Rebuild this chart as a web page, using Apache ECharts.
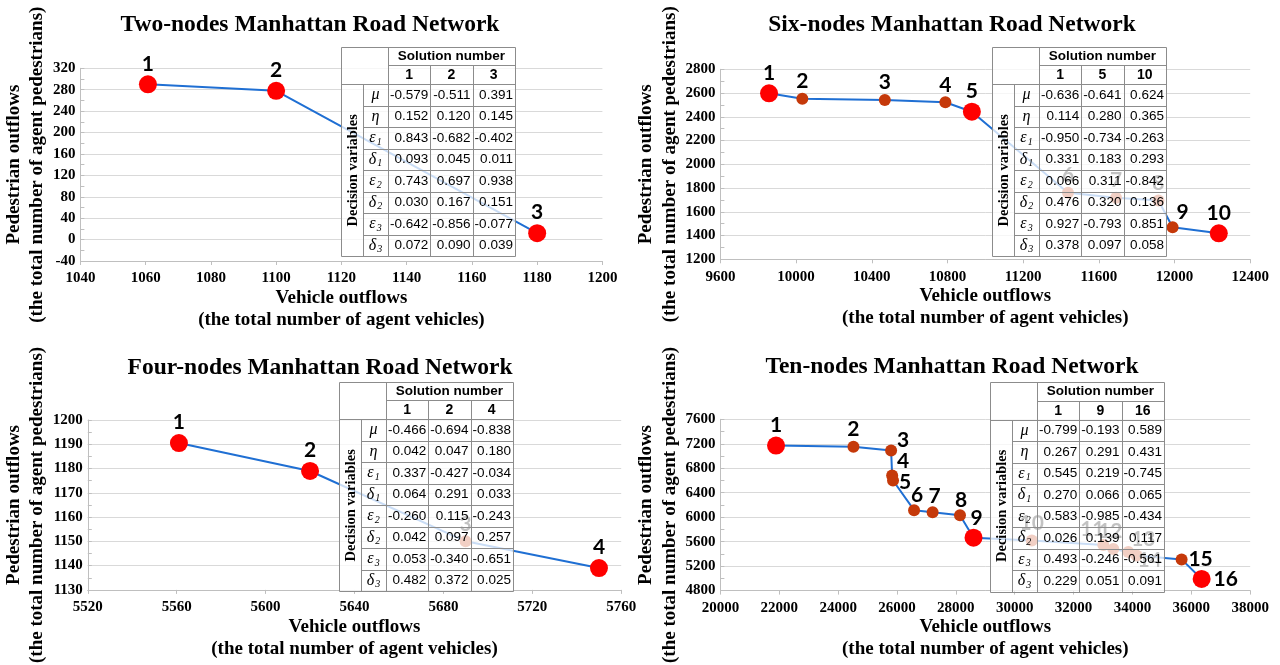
<!DOCTYPE html>
<html><head><meta charset="utf-8">
<script src="https://cdn.jsdelivr.net/npm/echarts@6/dist/echarts.min.js"></script>
<style>html,body{margin:0;padding:0;background:#fff;}#c{width:1280px;height:665px;}</style>
</head><body><div id="c"></div>
<script>
// ---------------- DATA ----------------
const titles = ['Two-nodes Manhattan Road Network', 'Six-nodes Manhattan Road Network',
                'Four-nodes Manhattan Road Network', 'Ten-nodes Manhattan Road Network'];
const xAxisName = 'Vehicle outflows\n(the total number of agent vehicles)';
const yAxisName = 'Pedestrian outflows\n(the total number of agent pedestrians)';

// Two-nodes
const twoX = [1060.7, 1100, 1180];
const twoY = [290, 278, 12];
const twoLabels = ['1', '2', '3'];
const twoBig = ['1', '2', '3'];
const twoXTicks = [1040, 1060, 1080, 1100, 1120, 1140, 1160, 1180, 1200];
const twoYTicks = [-40, 0, 40, 80, 120, 160, 200, 240, 280, 320];

// Six-nodes
const sixX = [9857, 10033, 10469, 10789, 10929, 11437, 11691, 11915, 11990, 12234];
const sixY = [2598, 2552, 2541, 2522, 2443, 1760, 1718, 1695, 1470, 1419];
const sixLabels = ['1', '2', '3', '4', '5', '6', '7', '8', '9', '10'];
const sixBig = ['1', '5', '10'];
const sixXTicks = [9600, 10000, 10400, 10800, 11200, 11600, 12000, 12400];
const sixYTicks = [1200, 1400, 1600, 1800, 2000, 2200, 2400, 2600, 2800];

// Four-nodes
const fourX = [5561, 5620, 5690, 5750];
const fourY = [1190.5, 1179, 1150, 1139];
const fourLabels = ['1', '2', '3', '4'];
const fourBig = ['1', '2', '4'];
const fourXTicks = [5520, 5560, 5600, 5640, 5680, 5720, 5760];
const fourYTicks = [1130, 1140, 1150, 1160, 1170, 1180, 1190, 1200];

// Ten-nodes
const tenX = [21890, 24520, 25800, 25835, 25865, 26580, 27210, 28140, 28600, 30580, 33010, 33350, 33860, 34140, 35670, 36350];
const tenY = [7170, 7150, 7090, 6680, 6600, 6115, 6080, 6030, 5665, 5620, 5545, 5480, 5430, 5375, 5310, 4990];
const tenLabels = ['1', '2', '3', '4', '5', '6', '7', '8', '9', '10', '11', '12', '13', '14', '15', '16'];
const tenBig = ['1', '9', '16'];
const tenXTicks = [20000, 22000, 24000, 26000, 28000, 30000, 32000, 34000, 36000, 38000];
const tenYTicks = [4800, 5200, 5600, 6000, 6400, 6800, 7200, 7600];

// Tables
const rowSymbols = ['μ', 'η', 'ε1', 'δ1', 'ε2', 'δ2', 'ε3', 'δ3'];
const twoSol = ['1', '2', '3'];
const twoTable = [
  ['-0.579', '-0.511', '0.391'], ['0.152', '0.120', '0.145'], ['0.843', '-0.682', '-0.402'], ['0.093', '0.045', '0.011'],
  ['0.743', '0.697', '0.938'], ['0.030', '0.167', '0.151'], ['-0.642', '-0.856', '-0.077'], ['0.072', '0.090', '0.039']];
const sixSol = ['1', '5', '10'];
const sixTable = [
  ['-0.636', '-0.641', '0.624'], ['0.114', '0.280', '0.365'], ['-0.950', '-0.734', '-0.263'], ['0.331', '0.183', '0.293'],
  ['0.066', '0.311', '-0.842'], ['0.476', '0.320', '0.136'], ['0.927', '-0.793', '0.851'], ['0.378', '0.097', '0.058']];
const fourSol = ['1', '2', '4'];
const fourTable = [
  ['-0.466', '-0.694', '-0.838'], ['0.042', '0.047', '0.180'], ['0.337', '-0.427', '-0.034'], ['0.064', '0.291', '0.033'],
  ['-0.260', '0.115', '-0.243'], ['0.042', '0.097', '0.257'], ['0.053', '-0.340', '-0.651'], ['0.482', '0.372', '0.025']];
const tenSol = ['1', '9', '16'];
const tenTable = [
  ['-0.799', '-0.193', '0.589'], ['0.267', '0.291', '0.431'], ['0.545', '0.219', '-0.745'], ['0.270', '0.066', '0.065'],
  ['0.583', '-0.985', '-0.434'], ['0.026', '0.139', '0.117'], ['0.493', '-0.246', '-0.561'], ['0.229', '0.051', '0.091']];

// ---------------- LAYOUT / STYLE ----------------
const SERIF = '"Liberation Serif","Times New Roman",serif';
const SANS = '"Liberation Sans",Arial,sans-serif';
const LABELF = 'Lato,"Open Sans",sans-serif';

const panels = [
  { title: titles[0], xs: twoX, ys: twoY, labels: twoLabels, big: twoBig, xt: twoXTicks, yt: twoYTicks,
    grid: { left: 80.4, top: 68.3, width: 522, height: 192.7 }, tcx: 310, ttop: 12, yGap: 29,
    table: { x: 341, y: 46.5, sol: twoSol, vals: twoTable }, offs: {} },
  { title: titles[1], xs: sixX, ys: sixY, labels: sixLabels, big: sixBig, xt: sixXTicks, yt: sixYTicks,
    grid: { left: 720.4, top: 69.3, width: 529.8, height: 190 }, tcx: 952, ttop: 12, yGap: 36,
    table: { x: 992, y: 46.5, sol: sixSol, vals: sixTable }, offs: { '9': [10, -15] } },
  { title: titles[2], xs: fourX, ys: fourY, labels: fourLabels, big: fourBig, xt: fourXTicks, yt: fourYTicks,
    grid: { left: 87.8, top: 420, width: 533.4, height: 175 }, tcx: 320, ttop: 355, yGap: 36,
    table: { x: 339, y: 381.5, sol: fourSol, vals: fourTable }, offs: {} },
  { title: titles[3], xs: tenX, ys: tenY, labels: tenLabels, big: tenBig, xt: tenXTicks, yt: tenYTicks,
    grid: { left: 720.4, top: 419.3, width: 529.8, height: 175 }, tcx: 952, ttop: 354, yGap: 37,
    table: { x: 990, y: 382, sol: tenSol, vals: tenTable },
    offs: { '3': [12, -10], '4': [11, -14], '5': [12, 2], '6': [3, -15], '7': [2, -16], '8': [1, -15.5], '9': [3, -19],
            '11': [-11, -16], '12': [-3, -18], '13': [15, -13], '14': [13, 5], '15': [19, 0], '16': [24, 0] } }
];

const cr = v => Math.round(v) + 0.5;

function tableElements(t) {
  const colW = [22, 25, 42.3, 42.3, 42.3];
  const headH = [18.5, 19.3];
  const rowH = 21.5;
  const xs = [t.x];
  colW.forEach(w => xs.push(xs[xs.length - 1] + w));
  const ys = [t.y, t.y + headH[0], t.y + headH[0] + headH[1]];
  for (let r = 0; r < 8; r++) ys.push(ys[ys.length - 1] + rowH);
  const els = [];
  els.push({ type: 'rect', z: 100, silent: true,
    shape: { x: xs[0], y: ys[0], width: xs[5] - xs[0], height: ys[10] - ys[0] },
    style: { fill: 'rgba(255,255,255,0.76)' } });
  const L = (x1, y1, x2, y2) => els.push({ type: 'line', z: 101, silent: true,
    shape: { x1: cr(x1), y1: cr(y1), x2: cr(x2), y2: cr(y2) }, style: { stroke: '#8c8c8c', lineWidth: 1 } });
  L(xs[0], ys[0], xs[5], ys[0]);
  L(xs[2], ys[1], xs[5], ys[1]);
  L(xs[0], ys[2], xs[5], ys[2]);
  for (let r = 3; r < 10; r++) L(xs[1], ys[r], xs[5], ys[r]);
  L(xs[0], ys[10], xs[5], ys[10]);
  L(xs[0], ys[0], xs[0], ys[10]);
  L(xs[1], ys[2], xs[1], ys[10]);
  L(xs[2], ys[0], xs[2], ys[10]);
  L(xs[3], ys[1], xs[3], ys[10]);
  L(xs[4], ys[1], xs[4], ys[10]);
  L(xs[5], ys[0], xs[5], ys[10]);
  const T = (x, y, text, font, align, extra) => els.push(Object.assign({ type: 'text', z: 102, silent: true, x: x, y: y,
    style: { text: text, font: font, fill: '#000', align: align, verticalAlign: 'middle', textAlign: align, textVerticalAlign: 'middle' } }, extra || {}));
  T((xs[2] + xs[5]) / 2, (ys[0] + ys[1]) / 2 + 0.5, 'Solution number', 'bold 13.5px ' + SANS, 'center');
  t.sol.forEach((s, c) => T((xs[2 + c] + xs[3 + c]) / 2, (ys[1] + ys[2]) / 2 + 0.5, s, 'bold 14px ' + SANS, 'center'));
  T((xs[0] + xs[1]) / 2 + 1, (ys[2] + ys[10]) / 2, 'Decision variables', 'bold 14.5px ' + SERIF, 'center', { rotation: Math.PI / 2 });
  rowSymbols.forEach((s, r) => {
    const yc = (ys[2 + r] + ys[3 + r]) / 2;
    const txt = s.length === 1 ? '{g|' + s + '}' : '{g|' + s[0] + '}{s|' + s.slice(1) + '}';
    els.push({ type: 'text', z: 102, silent: true, x: (xs[1] + xs[2]) / 2, y: yc,
      style: { text: txt, align: 'center', verticalAlign: 'middle', textAlign: 'center', textVerticalAlign: 'middle',
        rich: {
          g: { fontFamily: SERIF, fontStyle: 'italic', fontSize: 16, lineHeight: 18, verticalAlign: 'middle', fill: '#000', color: '#000' },
          s: { fontFamily: SERIF, fontStyle: 'italic', fontSize: 10, lineHeight: 10, verticalAlign: 'bottom', padding: [0, 0, 0, 1], fill: '#000', color: '#000' }
        } } });
    t.vals[r].forEach((v, c) => T(xs[3 + c] - 2, yc, v, '13.5px ' + SANS, 'right'));
  });
  return els;
}

const plain = v => String(v);

const option = {
  animation: false,
  backgroundColor: '#fff',
  title: panels.map(p => ({ text: p.title, left: p.tcx, top: p.ttop, textAlign: 'center', padding: 0,
    textStyle: { fontFamily: SERIF, fontWeight: 'bold', fontSize: 23.5, lineHeight: 26, color: '#000' } })),
  grid: panels.map(p => Object.assign({ containLabel: false }, p.grid)),
  xAxis: panels.map((p, i) => ({
    type: 'value', gridIndex: i, min: p.xt[0], max: p.xt[p.xt.length - 1], interval: p.xt[1] - p.xt[0],
    name: xAxisName, nameLocation: 'middle', nameGap: 25,
    nameTextStyle: { fontFamily: SERIF, fontWeight: 'bold', fontSize: 19, lineHeight: 22, color: '#000' },
    axisLine: { show: true, onZero: false, lineStyle: { color: '#bfbfbf', width: 1 } },
    axisTick: { show: true, length: 4, lineStyle: { color: '#bfbfbf' } },
    splitLine: { show: false },
    axisLabel: { margin: 10, fontFamily: SERIF, fontWeight: 'bold', fontSize: 15, color: '#000', formatter: plain }
  })),
  yAxis: panels.map((p, i) => ({
    type: 'value', gridIndex: i, min: p.yt[0], max: p.yt[p.yt.length - 1], interval: p.yt[1] - p.yt[0],
    name: yAxisName, nameLocation: 'middle', nameGap: p.yGap,
    nameTextStyle: { fontFamily: SERIF, fontWeight: 'bold', fontSize: 19, lineHeight: 23.5, color: '#000' },
    axisLine: { show: true, onZero: false, lineStyle: { color: '#bfbfbf', width: 1 } },
    axisTick: { show: true, inside: true, length: 4, lineStyle: { color: '#bfbfbf' } },
    minorTick: { show: true, splitNumber: 2, length: 4, lineStyle: { color: '#bfbfbf' } },
    splitLine: { show: true, lineStyle: { color: '#d9d9d9', width: 1 } },
    axisLabel: { margin: 5, fontFamily: SERIF, fontWeight: 'bold', fontSize: 15, color: '#000', formatter: plain }
  })),
  series: panels.map((p, i) => ({
    type: 'line', xAxisIndex: i, yAxisIndex: i, z: 2,
    symbol: 'circle', showSymbol: true, showAllSymbol: true, silent: true,
    lineStyle: { color: '#1f6fd3', width: 2 },
    emphasis: { disabled: true },
    label: { show: true, position: 'inside', fontFamily: LABELF, fontWeight: 'bold', fontSize: 21, color: '#000',
      formatter: q => p.labels[q.dataIndex] },
    data: p.xs.map((x, k) => {
      const lab = p.labels[k];
      const isBig = p.big.indexOf(lab) >= 0;
      const off = p.offs[lab] || (isBig ? [0, -20.5] : [0, -17.5]);
      return { value: [x, p.ys[k]], symbolSize: isBig ? 18 : 12,
        itemStyle: { color: isBig ? '#ff0000' : '#c5390a' },
        label: { offset: off } };
    })
  })),
  graphic: { elements: [].concat(...panels.map(p => tableElements(p.table))) }
};

const chart = echarts.init(document.getElementById('c'), null, { renderer: 'canvas' });
chart.setOption(option);
</script>
</body></html>
